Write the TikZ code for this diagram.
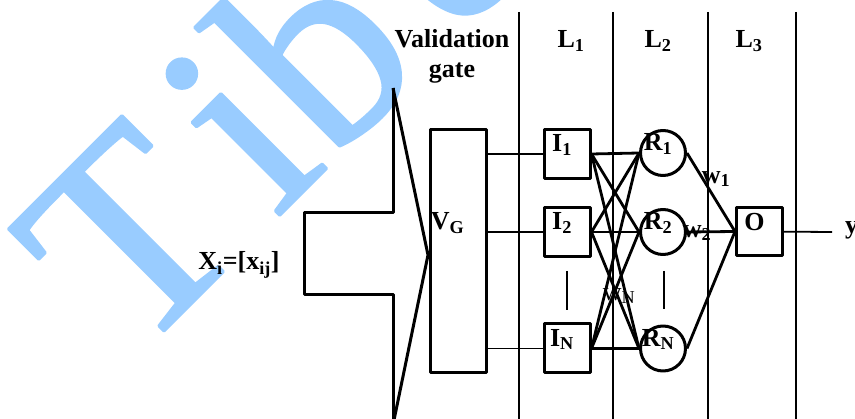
\documentclass[tikz,border=0pt]{standalone}
\usepackage{fontspec}
\setmainfont{Liberation Serif}
\newfontfamily\wmfont[FakeBold=1.1, Kerning=Off]{Liberation Serif}
\definecolor{wmblue}{RGB}{153,204,255}

\begin{document}
\begin{tikzpicture}[x=1pt, y=-1pt, line join=round,
		font=\fontsize{26}{30}\selectfont\bfseries,
		box/.style={draw, line width=3pt, minimum width=46pt, minimum height=49pt, inner sep=0pt},
		neuron/.style={draw, circle, line width=3pt, minimum size=45pt, inner sep=0pt},
		lab/.style={label={[xshift=-5pt, yshift=9pt]center:#1}},
		link/.style={line width=2.8pt},
		wire/.style={line width=1.8pt},
		guide/.style={line width=1.4pt}]
	
	\useasboundingbox (0,0) rectangle (855,419);
	
	% watermark
	\node[wmblue, font=\wmfont\fontsize{278}{278}\selectfont, anchor=base west, rotate=45, inner sep=0pt] (wm) at (133.6,361.4) {T\kern31pt i\kern1pt b\kern35pt e};
	
	% layer borders
	\foreach \gx in {519,613,708,796}
	\draw[guide] (\gx,12) -- (\gx,425);
	
	\node[align=center] (gate) at (452,56) {Validation\\gate};
	\node[anchor=base] (l1) at (571,48) {L\textsubscript{1}};
	\node[anchor=base] (l2) at (658,48) {L\textsubscript{2}};
	\node[anchor=base] (l3) at (749,48) {L\textsubscript{3}};
	
	% input funnel
	\coordinate (apex) at (428,255);
	\draw[line width=3pt] (393,88) -- (393,213) -- (304,213) -- (304,295) -- (393,295) -- (393,425);
	\draw[line width=3pt] (393,88) -- (apex) -- (393,425);
	\node[anchor=base] (xin) at (239,270) {X\textsubscript{i}=[x\textsubscript{ij}]};
	
	% nodes
	\node[box, minimum width=56pt, minimum height=243pt, label={[xshift=-11pt, yshift=28pt]center:V\textsubscript{G}}] (vg) at (458.5,251) {};
	
	\node[box, lab={I\textsubscript{1}}] (i1) at (567,154) {};
	\node[box, lab={I\textsubscript{2}}] (i2) at (567,232) {};
	\node[box, lab={I\textsubscript{N}}] (iN) at (567,348.5) {};
	
	\node[neuron, lab={R\textsubscript{1}}] (r1) at (663,153) {};
	\node[neuron, lab={R\textsubscript{2}}] (r2) at (663,232) {};
	\node[neuron, lab={R\textsubscript{N}}] (rN) at (663,348.5) {};
	
	\node[box, minimum height=48pt, lab={O}] (o) at (759.5,231.5) {};
	
	% vertical dots
	\draw[guide] (567,271) -- (567,310);
	\draw[guide] (664,271) -- (664,309);
	
	% connections
	\foreach \a in {i1,i2,iN}
	\draw[wire] (vg.east |- \a) -- (\a);
	\foreach \a in {i1,i2,iN}
	\foreach \b in {r1,r2,rN}
	\draw[link] (\a.east) -- (\b.west);
	\foreach \b in {r1,r2,rN}
	\draw[link] (\b.east) -- (o.west);
	
	\coordinate (yend) at (832,232);
	\draw[wire] (o) -- (yend);
	\node[anchor=base west, inner sep=0pt] (yout) at (845,234) {y};
	
	\node (w1) at (716,179) {w\textsubscript{1}};
	\node (w2) at (697,233) {w\textsubscript{2}};
	\node[font=\fontsize{26}{30}\selectfont\mdseries] (wN) at (619,296) {w\textsubscript{N}};
	
\end{tikzpicture}
\end{document}
